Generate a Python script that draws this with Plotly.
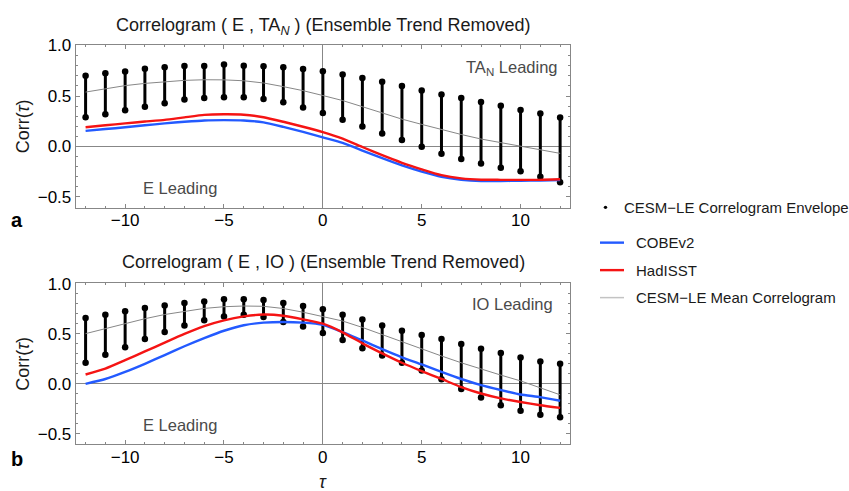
import plotly.graph_objects as go

lags = list(range(-12, 13))

# Panel a : (E , TA_N)
a_env_hi = [0.70, 0.726, 0.742, 0.771, 0.784, 0.797, 0.797, 0.813, 0.80, 0.794, 0.784, 0.768, 0.745,
            0.713, 0.678, 0.642, 0.60, 0.555, 0.516, 0.481, 0.442, 0.403, 0.361, 0.326, 0.287]
a_env_lo = [0.29, 0.319, 0.358, 0.394, 0.429, 0.465, 0.481, 0.487, 0.487, 0.471, 0.439, 0.387, 0.332,
            0.264, 0.197, 0.129, 0.065, -0.003, -0.071, -0.123, -0.168, -0.21, -0.245, -0.30, -0.355]
a_mean = [0.539, 0.572, 0.603, 0.625, 0.642, 0.655, 0.661, 0.660, 0.651, 0.629, 0.593, 0.553, 0.505,
          0.455, 0.394, 0.329, 0.271, 0.219, 0.168, 0.119, 0.074, 0.039, 0.002, -0.032, -0.068]
a_had = [0.19, 0.21, 0.229, 0.247, 0.264, 0.289, 0.313, 0.319, 0.315, 0.29, 0.245, 0.196, 0.143,
         0.078, -0.005, -0.086, -0.161, -0.226, -0.284, -0.316, -0.329, -0.33, -0.33, -0.33, -0.325]
a_cobe = [0.155, 0.173, 0.19, 0.21, 0.229, 0.245, 0.258, 0.261, 0.258, 0.239, 0.194, 0.145, 0.09,
          0.035, -0.04, -0.116, -0.187, -0.248, -0.30, -0.329, -0.342, -0.342, -0.339, -0.336, -0.332]

# Panel b : (E , IO)
b_env_hi = [0.656, 0.689, 0.724, 0.757, 0.783, 0.806, 0.821, 0.845, 0.845, 0.838, 0.806, 0.777, 0.744,
            0.689, 0.641, 0.583, 0.53, 0.488, 0.447, 0.398, 0.35, 0.307, 0.262, 0.223, 0.2]
b_env_lo = [0.21, 0.291, 0.365, 0.447, 0.517, 0.583, 0.634, 0.673, 0.689, 0.666, 0.618, 0.573, 0.508,
            0.437, 0.355, 0.282, 0.21, 0.132, 0.045, -0.052, -0.136, -0.214, -0.269, -0.308, -0.334]
b_mean = [0.501, 0.553, 0.605, 0.65, 0.692, 0.724, 0.753, 0.77, 0.777, 0.774, 0.752, 0.715, 0.67,
          0.627, 0.563, 0.491, 0.42, 0.346, 0.278, 0.21, 0.146, 0.087, 0.029, -0.04, -0.11]
b_had = [0.093, 0.152, 0.236, 0.323, 0.411, 0.498, 0.576, 0.634, 0.673, 0.692, 0.68, 0.644, 0.60,
         0.514, 0.404, 0.304, 0.21, 0.126, 0.048, -0.033, -0.097, -0.146, -0.182, -0.214, -0.24]
b_cobe = [0.0, 0.048, 0.119, 0.2, 0.287, 0.375, 0.456, 0.53, 0.585, 0.611, 0.618, 0.611, 0.589,
          0.517, 0.433, 0.346, 0.265, 0.194, 0.119, 0.048, -0.013, -0.062, -0.107, -0.133, -0.169]

x_ticks = [-10, -5, 0, 5, 10]
y_ticks = [-0.5, 0.0, 0.5, 1.0]
y_tick_text = ["−0.5", "0.0", "0.5", "1.0"]

BLUE = "rgb(35,90,255)"
RED = "rgb(245,20,20)"
GRAY = "rgb(135,135,135)"
FONT = "Liberation Sans, Arial, sans-serif"

W, H = 849, 491


def px(x):
    return x / W


def py(y):
    return 1 - y / H


fig = go.Figure()


def add_panel(env_hi, env_lo, mean, had, cobe, xa, ya):
    sx, sy = [], []
    for l, lo, hi in zip(lags, env_lo, env_hi):
        sx += [l, l, None]
        sy += [lo, hi, None]
    fig.add_trace(go.Scatter(x=sx, y=sy, mode="lines+markers", xaxis=xa, yaxis=ya,
                             line=dict(color="black", width=3),
                             marker=dict(color="black", size=6.5), showlegend=False))
    fig.add_trace(go.Scatter(x=lags, y=mean, mode="lines", xaxis=xa, yaxis=ya,
                             line=dict(color=GRAY, width=1), showlegend=False))
    fig.add_trace(go.Scatter(x=lags, y=cobe, mode="lines", xaxis=xa, yaxis=ya,
                             line=dict(color=BLUE, width=2.4, shape="spline", smoothing=0.5),
                             showlegend=False))
    fig.add_trace(go.Scatter(x=lags, y=had, mode="lines", xaxis=xa, yaxis=ya,
                             line=dict(color=RED, width=2.4, shape="spline", smoothing=0.5),
                             showlegend=False))


add_panel(a_env_hi, a_env_lo, a_mean, a_had, a_cobe, "x", "y")
add_panel(b_env_hi, b_env_lo, b_mean, b_had, b_cobe, "x2", "y2")

xdom = [px(75.7), px(570)]
common_x = dict(range=[-12.5, 12.5], domain=xdom, tickvals=x_ticks, ticks="inside", ticklen=4,
                tickcolor=GRAY, showline=True, linecolor=GRAY, mirror="allticks", linewidth=1,
                showgrid=False, zeroline=True, zerolinecolor=GRAY, zerolinewidth=1,
                ticklabelstandoff=-3,
                tickfont=dict(family=FONT, size=17, color="black"),
                minor=dict(dtick=1, ticks="inside", ticklen=2, tickcolor=GRAY, showgrid=False))
common_y = dict(range=[-0.605, 1.005], tickvals=y_ticks, ticktext=y_tick_text,
                ticks="inside", ticklen=4, tickcolor=GRAY, showline=True, linecolor=GRAY,
                mirror="allticks", linewidth=1, showgrid=False, zeroline=True,
                zerolinecolor=GRAY, zerolinewidth=1,
                tickfont=dict(family=FONT, size=17, color="black"),
                minor=dict(dtick=0.1, tick0=0, ticks="inside", ticklen=2, tickcolor=GRAY,
                           showgrid=False))

fig.update_layout(
    width=W, height=H, margin=dict(l=0, r=0, t=0, b=0),
    paper_bgcolor="white", plot_bgcolor="white", showlegend=False,
    xaxis=dict(common_x, anchor="y"),
    yaxis=dict(common_y, domain=[py(202.3), py(36.7)], anchor="x"),
    xaxis2=dict(common_x, anchor="y2"),
    yaxis2=dict(common_y, domain=[py(443.5), py(279.3)], anchor="x2"),
)

ann = []


def txt(x, y, text, size=15, color="black", xanchor="center", angle=0):
    ann.append(dict(x=px(x), y=py(y), xref="paper", yref="paper", text=text, showarrow=False,
                    xanchor=xanchor, yanchor="middle", textangle=angle,
                    font=dict(family=FONT, size=size, color=color)))


txt(323, 18, "Correlogram ( E , TA<sub><i>N</i></sub> ) (Ensemble Trend Removed)", 18, "#1a1a1a")
txt(323, 258, "Correlogram ( E , IO ) (Ensemble Trend Removed)", 18, "#1a1a1a")
txt(23, 119.5, "Corr(<i>τ</i>)", 18, "#1a1a1a", angle=-90)
txt(23, 361.4, "Corr(<i>τ</i>)", 18, "#1a1a1a", angle=-90)
txt(17, 215, "<b>a</b>", 20)
txt(17, 458, "<b>b</b>", 20)
txt(323, 482, "<i>τ</i>", 18, "#1a1a1a")
txt(560, 60, "TA<sub>N</sub> Leading", 16.5, "#4a4a4a", xanchor="right")
txt(180, 182, "E Leading", 16.5, "#4a4a4a")
txt(555, 301, "IO Leading", 16.5, "#4a4a4a", xanchor="right")
txt(180, 424, "E Leading", 16.5, "#4a4a4a")

# legend
txt(621.5, 202, "CESM−LE Correlogram Envelope", 15, "#1a1a1a", xanchor="left")
txt(634, 238, "COBEv2", 15, "#1a1a1a", xanchor="left")
txt(634, 266, "HadISST", 15, "#1a1a1a", xanchor="left")
txt(634, 294, "CESM−LE Mean Correlogram", 15, "#1a1a1a", xanchor="left")

shapes = [
    dict(type="circle", xref="paper", yref="paper", x0=px(603.8), x1=px(607.2), y0=py(203.7),
         y1=py(200.3), fillcolor="black", line=dict(width=0)),
    dict(type="line", xref="paper", yref="paper", x0=px(600), x1=px(624), y0=py(238), y1=py(238),
         line=dict(color=BLUE, width=2.4)),
    dict(type="line", xref="paper", yref="paper", x0=px(600), x1=px(624), y0=py(266), y1=py(266),
         line=dict(color=RED, width=2.4)),
    dict(type="line", xref="paper", yref="paper", x0=px(600), x1=px(624), y0=py(294), y1=py(294),
         line=dict(color="rgb(195,195,195)", width=1.5)),
]

fig.update_layout(annotations=ann, shapes=shapes)
fig.write_html("out.html")
